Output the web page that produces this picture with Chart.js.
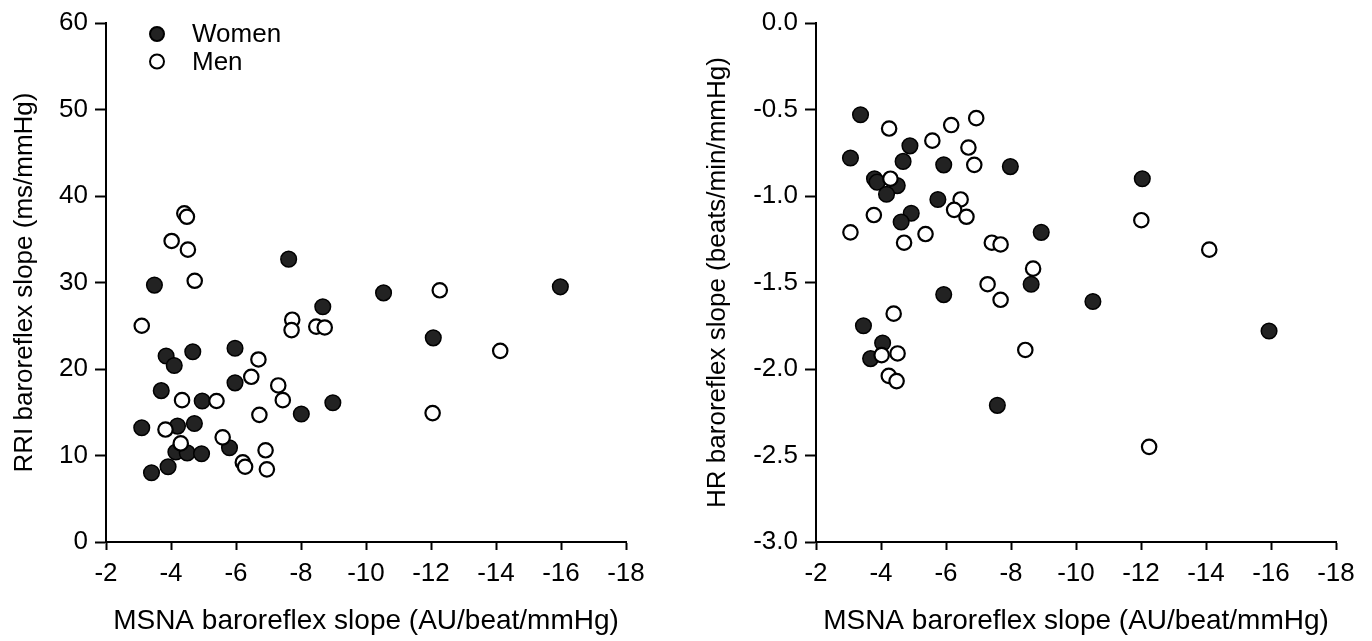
<!DOCTYPE html>
<html>
<head>
<meta charset="utf-8">
<script src="https://cdn.jsdelivr.net/npm/chart.js@4.4.1/dist/chart.umd.min.js"></script>
<style>
  html, body { margin: 0; padding: 0; background: #fff; }
  #wrap { width: 1372px; height: 641px; position: relative; }
  canvas { position: absolute; top: 0; }
  #left { left: 0; }
  #right { left: 686px; }
</style>
</head>
<body>
<div id="wrap">
  <canvas id="left" width="686" height="641"></canvas>
  <canvas id="right" width="686" height="641"></canvas>
</div>
<script>
// x values: MSNA baroreflex slope (AU/beat/mmHg)
const xTicks = [-2, -4, -6, -8, -10, -12, -14, -16, -18];
const rriTicks = [0, 10, 20, 30, 40, 50, 60];
const hrTicks = [0.0, -0.5, -1.0, -1.5, -2.0, -2.5, -3.0];

// Left panel: RRI baroreflex slope
const womenRriX = [-3.49, -7.62, -8.67, -3.85, -4.10, -4.67, -5.97, -5.97, -3.70, -4.96, -8.01, -8.98,
                   -3.10, -4.20, -4.72, -4.15, -4.50, -4.94, -5.80, -3.40, -3.91, -10.54, -15.98, -12.07];
const womenRriY = [29.7, 32.7, 27.2, 21.5, 20.4, 22.0, 22.4, 18.4, 17.5, 16.3, 14.8, 16.1,
                   13.2, 13.4, 13.7, 10.4, 10.3, 10.2, 10.9, 8.0, 8.7, 28.8, 29.5, 23.6];
const menRriX = [-4.41, -4.49, -4.02, -4.52, -4.73, -3.10, -7.73, -7.71, -8.47, -8.73, -6.69, -6.47, -7.30, -7.44,
                 -4.34, -5.40, -6.72, -3.83, -4.30, -5.59, -6.21, -6.28, -6.91, -6.95, -12.27, -14.13, -12.05];
const menRriY = [38.0, 37.6, 34.8, 33.8, 30.2, 25.0, 25.7, 24.5, 24.9, 24.8, 21.1, 19.1, 18.1, 16.4,
                 16.4, 16.3, 14.7, 13.0, 11.4, 12.1, 9.2, 8.7, 10.6, 8.4, 29.1, 22.1, 14.9];

// Right panel: HR baroreflex slope
const womenHrX = [-3.37, -3.06, -4.89, -4.68, -5.93, -7.98, -3.80, -3.88, -4.50, -4.17, -5.75, -4.93,
                  -4.62, -8.93, -5.93, -8.62, -10.52, -3.46, -4.05, -3.68, -7.58, -12.04, -15.94];
const womenHrY = [-0.53, -0.78, -0.71, -0.80, -0.82, -0.83, -0.90, -0.92, -0.94, -0.99, -1.02, -1.10,
                  -1.15, -1.21, -1.57, -1.51, -1.61, -1.75, -1.85, -1.94, -2.21, -0.90, -1.78];
const menHrX = [-4.25, -6.16, -6.93, -5.58, -6.69, -6.87, -4.29, -6.45, -6.25, -6.63, -3.78, -3.06, -4.71, -5.37,
                -7.41, -7.68, -8.68, -7.28, -7.68, -4.39, -8.44, -4.02, -4.51, -4.24, -4.48, -12.01, -14.10, -12.25];
const menHrY = [-0.61, -0.59, -0.55, -0.68, -0.72, -0.82, -0.90, -1.02, -1.08, -1.12, -1.11, -1.21, -1.27, -1.22,
                -1.27, -1.28, -1.42, -1.51, -1.60, -1.68, -1.89, -1.92, -1.91, -2.04, -2.07, -1.14, -1.31, -2.45];

const FONT = '"Liberation Sans", Arial, sans-serif';

function toPoints(xs, ys) {
    return xs.map((x, i) => ({ x: x, y: ys[i] }));
}

// legend drawn inside the plot, top left
const innerLegend = {
    id: 'innerLegend',
    afterDatasetsDraw(chart, args, opts) {
        if (!opts.show) return;
        const ctx = chart.ctx;
        const items = [
            { label: 'Women', fill: '#222' },
            { label: 'Men', fill: '#fff' }
        ];
        ctx.save();
        ctx.font = '26px ' + FONT;
        ctx.textBaseline = 'middle';
        items.forEach((it, i) => {
            const y = 34 + i * 27.5;
            ctx.beginPath();
            ctx.arc(157, y, 7, 0, Math.PI * 2);
            ctx.fillStyle = it.fill;
            ctx.fill();
            ctx.lineWidth = 2;
            ctx.strokeStyle = '#000';
            ctx.stroke();
            ctx.fillStyle = '#000';
            ctx.fillText(it.label, 192, y + 1);
        });
        ctx.restore();
    }
};

function makeChart(id, cfg) {
    const datasets = [
        {
            label: 'Men',
            data: toPoints(cfg.menX, cfg.menY),
            backgroundColor: '#fff',
            borderColor: '#000',
            borderWidth: 2.2,
            pointRadius: 7.2,
            order: 0
        },
        {
            label: 'Women',
            data: toPoints(cfg.womenX, cfg.womenY),
            backgroundColor: '#222',
            borderColor: '#000',
            borderWidth: 1.5,
            pointRadius: 7.8,
            order: 1
        }
    ];

    return new Chart(document.getElementById(id), {
        type: 'scatter',
        data: { datasets: datasets },
        plugins: [innerLegend],
        options: {
            responsive: false,
            animation: false,
            devicePixelRatio: 1,
            clip: false,
            layout: { padding: { top: 23, right: cfg.padRight, bottom: 0, left: 0 } },
            plugins: {
                legend: { display: false },
                tooltip: { enabled: false },
                innerLegend: { show: cfg.legend }
            },
            scales: {
                x: {
                    type: 'linear',
                    min: -18,
                    max: -2,
                    reverse: true,
                    afterBuildTicks: (s) => { s.ticks = xTicks.map(v => ({ value: v })); },
                    afterFit: (s) => { s.height = 99; },
                    border: { display: true, color: '#000', width: 2 },
                    grid: { drawOnChartArea: false, drawTicks: true, tickLength: 8, tickColor: '#000', tickWidth: 2 },
                    ticks: { color: '#000', padding: 8, font: { family: FONT, size: 26 }, maxRotation: 0 },
                    title: {
                        display: true,
                        text: 'MSNA baroreflex slope (AU/beat/mmHg)',
                        color: '#000',
                        font: { family: FONT, size: 28 },
                        padding: { top: 0, bottom: 3 }
                    }
                },
                y: {
                    type: 'linear',
                    min: cfg.yMin,
                    max: cfg.yMax,
                    afterBuildTicks: (s) => { s.ticks = cfg.yTicks.map(v => ({ value: v })); },
                    afterFit: (s) => { s.width = cfg.yWidth; },
                    border: { display: true, color: '#000', width: 2 },
                    grid: { drawOnChartArea: false, drawTicks: true, tickLength: 11, tickColor: '#000', tickWidth: 2 },
                    ticks: { color: '#000', padding: 7, font: { family: FONT, size: 26 }, callback: cfg.yFmt },
                    title: {
                        display: true,
                        text: cfg.yTitle,
                        color: '#000',
                        font: { family: FONT, size: 26 },
                        padding: { top: cfg.yTitlePad, bottom: 0 }
                    }
                }
            }
        }
    });
}

makeChart('left', {
    womenX: womenRriX, womenY: womenRriY, menX: menRriX, menY: menRriY,
    yMin: 0, yMax: 60, yTicks: rriTicks, yFmt: (v) => String(v),
    yTitle: 'RRI baroreflex slope (ms/mmHg)', yTitlePad: 9,
    yWidth: 106, padRight: 60, legend: true
});

makeChart('right', {
    womenX: womenHrX, womenY: womenHrY, menX: menHrX, menY: menHrY,
    yMin: -3, yMax: 0, yTicks: hrTicks, yFmt: (v) => v.toFixed(1),
    yTitle: 'HR baroreflex slope (beats/min/mmHg)', yTitlePad: 16,
    yWidth: 130, padRight: 36, legend: false
});
</script>
</body>
</html>
